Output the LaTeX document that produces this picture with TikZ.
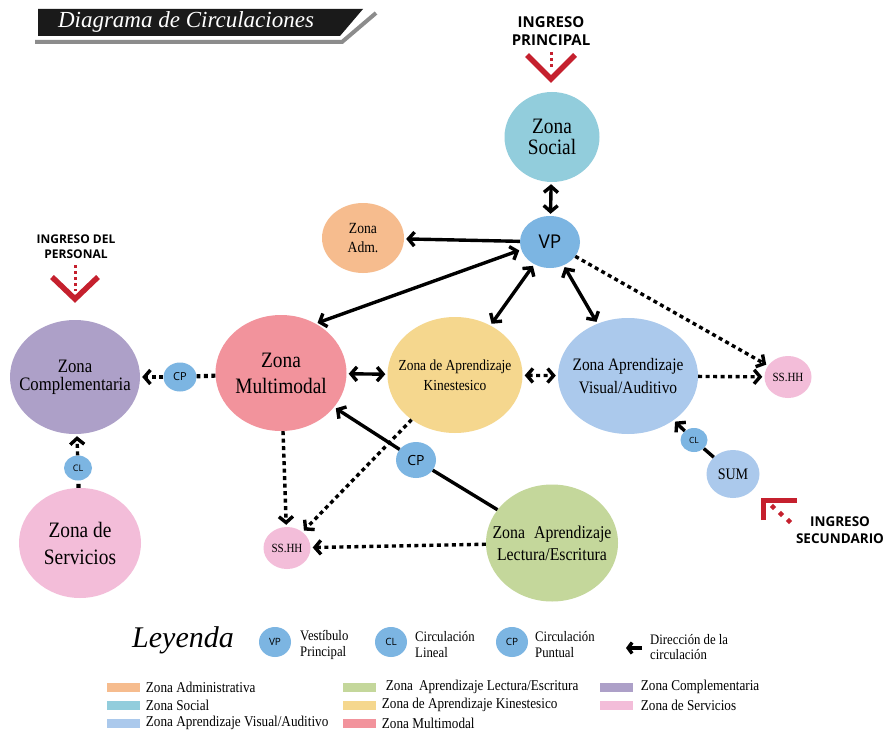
\documentclass[tikz,border=0pt]{standalone}
\usepackage{fontspec}
\setmainfont{Liberation Serif}
\newfontfamily\condfont[FakeStretch=0.88]{Liberation Serif}
\newfontfamily\signfont{Open Sans}
\usepackage{tikz}
\usetikzlibrary{arrows.meta,positioning,calc,shapes.geometric}
\definecolor{SocialTeal}{HTML}{92CDDC}
\definecolor{NodeBlue}{HTML}{7CB5E2}
\definecolor{AdmOrange}{HTML}{F6BC8E}
\definecolor{ComplPurple}{HTML}{ADA0C8}
\definecolor{MultiRed}{HTML}{F2939C}
\definecolor{KinYellow}{HTML}{F5D78E}
\definecolor{VisBlue}{HTML}{ABC9EC}
\definecolor{ServPink}{HTML}{F3BDD9}
\definecolor{LectGreen}{HTML}{C4D79B}
\definecolor{EntryRed}{HTML}{C5202E}
\definecolor{TitleBlack}{HTML}{1A1A1A}
\definecolor{TitleGray}{HTML}{8C8C8C}
\newcommand{\zonafont}[2]{\condfont\fontsize{#1}{#2}\selectfont}
\newcommand{\signsize}[2]{\signfont\fontsize{#1}{#2}\selectfont}

\begin{document}
\begin{tikzpicture}[
    x=1pt,y=-1pt,
    zona/.style={
        ellipse,
        inner sep=-30pt,
        align=center,
    },
    nodo/.style={
        ellipse,
        fill=NodeBlue,
        inner sep=-10pt,
    },
    flow/.style={
        line width=3.4pt,
        -{Straight Barb[length=6pt,width=14pt]},
        shorten >=2pt,
    },
    twoway/.style={
        line width=3.4pt,
        {Straight Barb[length=6pt,width=14pt]}-{Straight Barb[length=6pt,width=14pt]},
        shorten >=2pt,
        shorten <=2pt,
    },
    link/.style={line width=3.4pt},
    dots/.style={line width=4.2pt,dash pattern=on 4pt off 3.5pt},
    entry/.style={draw=EntryRed,line width=5.5pt,line join=miter},
    entrydots/.style={draw=EntryRed,line width=3pt,dash pattern=on 3pt off 3pt},
    swatch/.style={minimum width=33pt,minimum height=9pt,inner sep=0pt},
    legtext/.style={font=\zonafont{15}{16},inner sep=0pt,anchor=west,align=left},
]
\fill[white] (0,0) rectangle (886,733);
\useasboundingbox (0,0) rectangle (886,733);

% title
\fill[TitleBlack] (38,9) -- (363,9) -- (340,36) -- (38,36) -- cycle;
\draw[TitleGray,line width=4pt] (35,42) -- (342,42) -- (376,13);
\node[text=white,font=\itshape\fontsize{23}{23}\selectfont] (titulo) at (186,22) {Diagrama de Circulaciones};

% zones
\node[zona,fill=SocialTeal,minimum width=95,minimum height=90,font=\zonafont{22}{21}] (soc) at (552,137) {Zona\\Social};
\node[nodo,minimum width=60,minimum height=52,font=\signsize{19}{19}] (vp) at (550,242) {VP};
\node[zona,fill=AdmOrange,minimum width=82,minimum height=70,font=\zonafont{15.5}{19}] (adm) at (363,238) {Zona\\Adm.};
\node[zona,fill=ComplPurple,minimum width=130,minimum height=114,font=\zonafont{19}{18}] (comp) at (75,377) {Zona\\Complementaria};
\node[nodo,minimum width=33,minimum height=29,font=\signsize{11}{11}] (cpl) at (180,377) {CP};
\node[zona,fill=MultiRed,minimum width=131,minimum height=116,font=\zonafont{22}{26}] (multi) at (281,373) {Zona\\Multimodal};
\node[zona,fill=KinYellow,minimum width=135,minimum height=116,font=\zonafont{15.3}{20}] (kin) at (455,375) {Zona de Aprendizaje\\Kinestesico};
\node[zona,fill=VisBlue,minimum width=140,minimum height=116,font=\zonafont{17.5}{23}] (vis) at (628,376) {Zona Aprendizaje\\Visual/Auditivo};
\node[zona,fill=ServPink,minimum width=47,minimum height=42,font=\zonafont{12.5}{12.5}] (sshr) at (788,377) {SS.HH};
\node[nodo,minimum width=27,minimum height=24,font=\signsize{8.5}{8.5}] (clr) at (694,440) {CL};
\node[zona,fill=VisBlue,minimum width=53,minimum height=48,font=\zonafont{16}{16}] (sum) at (733,474) {SUM};
\node[nodo,minimum width=40,minimum height=36,font=\signsize{14}{14}] (cpm) at (416,460) {CP};
\node[zona,fill=ServPink,minimum width=47,minimum height=42,font=\zonafont{12.5}{12.5}] (sshb) at (287,548) {SS.HH};
\node[zona,fill=LectGreen,minimum width=132,minimum height=117,font=\zonafont{18}{22}] (lect) at (552,543) {Zona\hspace{0.5em}Aprendizaje\\Lectura/Escritura};
\node[zona,fill=ServPink,minimum width=122,minimum height=110,font=\zonafont{22}{27}] (serv) at (80,543) {Zona de\\Servicios};
\node[nodo,minimum width=28,minimum height=25,font=\signsize{9}{9}] (cll) at (78,468) {CL};

% entrances
\node[align=center,font=\signsize{15}{18}\bfseries] (ingP) at (551,31) {INGRESO\\PRINCIPAL};
\coordinate (vP) at (551,79);
\draw[entry] ($(vP)+(-24,-24)$) -- (vP) -- ++(24,-24);
\draw[entrydots] ($(vP)+(0,-27)$) -- ($(vP)+(0,-9)$);

\node[align=center,font=\signsize{12}{15}\bfseries] (ingPer) at (76,247) {INGRESO DEL\\PERSONAL};
\coordinate (vPer) at (75,299);
\draw[entry] ($(vPer)+(-23,-22)$) -- (vPer) -- ++(23,-22);
\draw[entrydots] ($(vPer)+(0,-34)$) -- ($(vPer)+(0,-8)$);

\node[align=center,font=\signsize{13.5}{17}\bfseries] (ingS) at (840,530) {INGRESO\\SECUNDARIO};
\coordinate (cS) at (763,500);
\draw[entry,line width=5pt] ($(cS)+(0,20)$) -- (cS) -- ++(34,0);
\foreach \k in {0,1,2}
    \fill[EntryRed] ($(cS)+(10+8*\k,7+7*\k)$) +(0,-3.2) -- +(3.2,0) -- +(0,3.2) -- +(-3.2,0) -- cycle;

% circulation
\draw[twoway] (soc) -- (vp);
\draw[flow] (vp) -- (adm);
\draw[twoway] (vp.195) -- (multi.55);
\draw[twoway] (vp) -- (kin);
\draw[twoway] (vp) -- (vis);
\draw[dots,flow] (vp) -- (sshr);
\draw[twoway] (multi) -- (kin);
\draw[dots,twoway] (kin) -- (vis);
\draw[dots,flow] (vis) -- (sshr);
\draw[link] (sum) -- (clr);
\draw[flow] (clr) -- (vis);
\draw[link] (lect) -- (cpm);
\draw[flow] (cpm) -- (multi);
\draw[dots] (multi) -- (cpl);
\draw[dots,flow] (cpl) -- (comp);
\draw[dots] (serv) -- (cll);
\draw[dots,flow] (cll) -- (comp);
\draw[dots,flow] (multi) -- (sshb);
\draw[dots,flow] (kin) -- (sshb);
\draw[dots,flow] (lect) -- (sshb);

% legend
\node[font=\itshape\fontsize{30}{30}\selectfont] (leyenda) at (183,640) {Leyenda};
\node[nodo,minimum width=32,minimum height=30,font=\signsize{10}{10}] (lgVP) at (275,642) {VP};
\node[legtext,font=\zonafont{14.5}{16}] (lgVPt) at (300,645) {Vestíbulo\\Principal};
\node[nodo,minimum width=32,minimum height=30,font=\signsize{10}{10}] (lgCL) at (391,642) {CL};
\node[legtext,font=\zonafont{14.5}{16}] (lgCLt) at (415,645) {Circulación\\Lineal};
\node[nodo,minimum width=32,minimum height=30,font=\signsize{10}{10}] (lgCP) at (512,642) {CP};
\node[legtext,font=\zonafont{14.5}{16}] (lgCPt) at (535,645) {Circulación\\Puntual};
\coordinate (lgArrA) at (642,648);
\coordinate (lgArrB) at (626,648);
\draw[line width=3.4pt,-{Straight Barb[length=4pt,width=11pt]}] (lgArrA) -- (lgArrB);
\node[legtext,font=\zonafont{14.5}{15}] (lgDir) at (650,647) {Dirección de la\\circulación};

\node[swatch,fill=AdmOrange] (swAdm) at (123,687) {};
\node[legtext,right=6pt of swAdm] (txAdm) {Zona Administrativa};
\node[swatch,fill=SocialTeal] (swSoc) at (123,705) {};
\node[legtext,right=6pt of swSoc] (txSoc) {Zona Social};
\node[swatch,fill=VisBlue] (swVis) at (123,723) {};
\node[legtext,right=6pt of swVis] (txVis) {Zona Aprendizaje Visual/Auditivo};

\node[swatch,fill=LectGreen] (swLect) at (359,687) {};
\node[legtext,right=10pt of swLect] (txLect) {Zona\hspace{0.4em}Aprendizaje Lectura/Escritura};
\node[swatch,fill=KinYellow] (swKin) at (359,705) {};
\node[legtext,right=6pt of swKin] (txKin) {Zona de Aprendizaje Kinestesico};
\node[swatch,fill=MultiRed] (swMulti) at (359,723) {};
\node[legtext,right=6pt of swMulti] (txMulti) {Zona Multimodal};

\node[swatch,fill=ComplPurple] (swComp) at (616,687) {};
\node[legtext,right=8pt of swComp] (txComp) {Zona Complementaria};
\node[swatch,fill=ServPink] (swServ) at (616,705) {};
\node[legtext,right=8pt of swServ] (txServ) {Zona de Servicios};
\end{tikzpicture}
\end{document}
